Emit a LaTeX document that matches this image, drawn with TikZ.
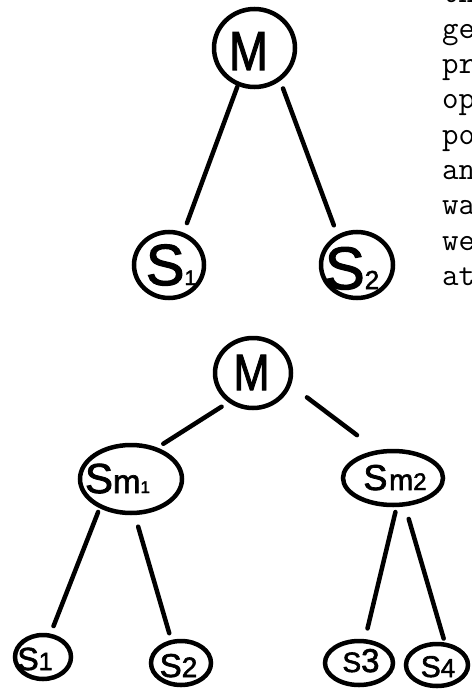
\documentclass[tikz,border=0pt]{standalone}
\usepackage{fontspec}
\newfontfamily\handfont{Liberation Sans}[UprightFeatures={FakeBold=2}]
\usetikzlibrary{shapes.geometric}
\newcommand{\fsz}[2]{{\fontsize{#1}{#1}\selectfont #2}}
\begin{document}
\begin{tikzpicture}[x=1pt,y=-1pt,
  blob/.style={draw, ellipse, line width=4.5pt, inner sep=0pt},
  edge/.style={line width=4.5pt, line cap=round},
  lbl/.style={anchor=base, inner sep=0pt, font=\handfont},
  txt/.style={anchor=base west, inner sep=0pt, font=\ttfamily\fontsize{32}{32}\selectfont}]
\fill[white] (0,0) rectangle (471,690);
\useasboundingbox (0,0) rectangle (471,690);

% ---- top tree ----
\node[blob, minimum width=81pt, minimum height=78pt] (tM) at (254.5,48) {};
\node[blob, minimum width=70pt, minimum height=66pt] (tS1) at (169,265) {};
\node[blob, minimum width=72pt, minimum height=66pt] (tS2) at (357,265) {};
\node[lbl] (tMl) at (248.5,70) {\scalebox{0.85}[1]{\fsz{55}{M}}};
\node[lbl] (tS1l) at (171,285) {\fsz{58}{S}\fsz{21}{1}};
\node[lbl] (tS2l) at (352,289) {\fsz{60}{S}\fsz{26}{2}};
\draw[edge, shorten <=1pt, shorten >=10pt] (tM.-114) -- (tS1.66);
\draw[edge, shorten <=8pt, shorten >=10pt] (tM.-52) -- (tS2.123);

% ---- bottom tree ----
\node[blob, minimum width=76pt, minimum height=70pt] (bM) at (253,373) {};
\node[blob, minimum width=102pt, minimum height=68pt] (Sm1) at (131,479) {};
\node[blob, minimum width=100pt, minimum height=54pt] (Sm2) at (393,478) {};
\node[blob, minimum width=56pt, minimum height=44pt] (bS1) at (43,657) {};
\node[blob, minimum width=60pt, minimum height=44pt] (bS2) at (181,663) {};
\node[blob, minimum width=68pt, minimum height=44pt] (bS3) at (359,663) {};
\node[blob, minimum width=62pt, minimum height=42pt] (bS4) at (437,665) {};

\node[lbl] (bMl) at (251.5,390) {\scalebox{0.85}[1]{\fsz{51}{M}}};
\node[lbl] (Sm1l) at (117.5,493) {\fsz{42}{S}\fsz{33}{m}\fsz{17}{1}};
\node[lbl] (Sm2l) at (395,490) {\fsz{36}{S}\,\fsz{29}{m}\fsz{24}{2}};
\node[lbl] (bS1l) at (35,670) {\fsz{32}{S}\fsz{25}{1}};
\node[lbl] (bS2l) at (178.5,677) {\fsz{33}{S}\fsz{28}{2}};
\node[lbl] (bS3l) at (361,672) {\fsz{28}{S}\fsz{33}{3}};
\node[lbl] (bS4l) at (438,677) {\fsz{30}{S}\fsz{26}{4}};

\draw[edge, shorten <=8pt, shorten >=7pt] (bM.-130) -- (Sm1.50);
\draw[edge, shorten <=20pt, shorten >=25pt] (bM.-18) -- (Sm2.120);
\draw[edge, shorten <=4pt, shorten >=8pt] (Sm1.-137) -- (bS1.72);
\draw[edge, shorten <=12pt, shorten >=7pt] (Sm1.-84) -- (bS2.113);
\draw[edge, shorten <=5pt, shorten >=11pt] (Sm2.-83) -- (bS3.76);
\draw[edge, shorten <=13pt, shorten >=4pt] (Sm2.-67) -- (bS4.71);

% ---- text cut off at the right edge ----
\begin{scope}
\clip (0,0) rectangle (471,690);
\node[txt] (w1) at (442,3) {th};
\node[txt] (w2) at (442,38.3) {ge};
\node[txt] (w3) at (442,73.6) {pr};
\node[txt] (w4) at (442,108.9) {op};
\node[txt] (w5) at (442,144.2) {po};
\node[txt] (w6) at (442,179.5) {an};
\node[txt] (w7) at (442,214.8) {wa};
\node[txt] (w8) at (442,250.1) {we};
\node[txt] (w9) at (442,285.4) {at};
\end{scope}
\end{tikzpicture}
\end{document}
